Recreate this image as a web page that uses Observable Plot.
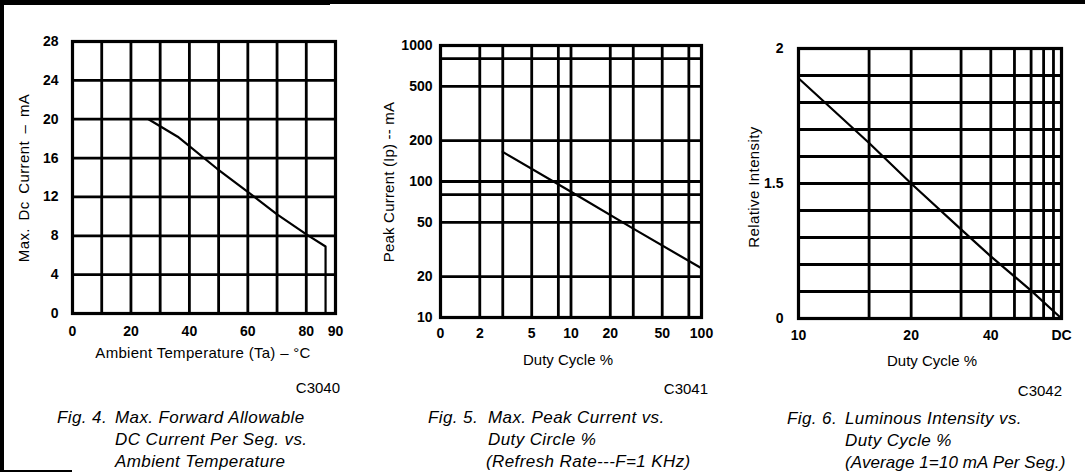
<!DOCTYPE html>
<html><head><meta charset="utf-8">
<script src="https://cdn.jsdelivr.net/npm/d3@7"></script>
<script src="https://cdn.jsdelivr.net/npm/@observablehq/plot@0.6"></script>
<style>
html,body{margin:0;padding:0;background:#fff;}
#page{position:relative;width:1085px;height:473px;overflow:hidden;background:#fff;font-family:"Liberation Sans",Arial,sans-serif;color:#000;}
.t{position:absolute;white-space:nowrap;line-height:1;}
.bar{position:absolute;background:#000;}
.panel{position:absolute;top:0;}
</style></head><body><div id="page"></div>
<script>
// ---------- Fig. 4 data ----------
const tempC      = [26, 36, 49.5, 61, 70, 80.3, 86.6, 86.6];
const maxDcMA    = [20, 18.2, 14.9, 12.3, 10.2, 8.1, 6.9, 0];
const x1Ticks    = [0, 20, 40, 60, 80, 90];
const y1Ticks    = [0, 4, 8, 12, 16, 20, 24, 28];
const x1Grid     = [10, 20, 30, 40, 50, 60, 70, 80];
const y1Grid     = [4, 8, 12, 16, 20, 24];

// ---------- Fig. 5 data ----------
const duty2      = [3, 10, 30, 100];
const peakMA     = [165, 84, 45, 23];
const x2Ticks    = [1, 2, 5, 10, 20, 50, 100];
const x2Labels   = ["0", "2", "5", "10", "20", "50", "100"];
const y2Ticks    = [10, 20, 50, 80, 100, 200, 500, 800, 1000];
const x2Grid     = [2, 3, 5, 8, 10, 20, 30, 50, 80];
const y2Grid     = [20, 50, 80, 100, 200, 500, 800];

// ---------- Fig. 6 data ----------
const duty3      = [10, 15, 20, 30, 40, 64, 100];
const relInt     = [1.89, 1.65, 1.5, 0.99, 0.69, 0.31, 0];
const x3Ticks    = [10, 20, 40, 100];
const x3Labels   = ["10", "20", "40", "DC"];
const y3Ticks    = [0, 1.5, 2];
const y3Labels   = ["0", "1.5", "2"];
const x3Grid     = [15, 20, 30, 40, 52, 64, 76, 88];
const y3Grid     = [0.3, 0.6, 0.9, 1.2, 1.5, 1.6, 1.7, 1.8, 1.9];

const page = document.getElementById("page");
const FONT = '"Liberation Sans", Arial, sans-serif';
const INK = "#000";

function bar(l, t, w, h) {
  const d = document.createElement("div");
  d.className = "bar";
  Object.assign(d.style, {left: l + "px", top: t + "px", width: w + "px", height: h + "px"});
  page.appendChild(d);
}
function text(str, o) {
  const d = document.createElement("div");
  d.className = "t";
  d.textContent = str;
  const size = o.size || 15;
  d.style.fontSize = size + "px";
  if (o.italic) d.style.fontStyle = "italic";
  if (o.ls) d.style.letterSpacing = o.ls + "px";
  if (o.ws) d.style.wordSpacing = o.ws + "px";
  if (o.rotate) {
    d.style.left = o.cx + "px";
    d.style.top = o.cy + "px";
    d.style.transform = "translate(-50%,-50%) rotate(-90deg)";
  } else {
    const top = o.capTop - 0.13 * size;
    d.style.top = top + "px";
    if (o.anchor === "middle") { d.style.left = o.x + "px"; d.style.transform = "translateX(-50%)"; }
    else if (o.anchor === "end") { d.style.right = (1085 - o.x) + "px"; }
    else d.style.left = o.x + "px";
  }
  page.appendChild(d);
}

// page borders from the scanned sheet
bar(0, 0, 1085, 4);
bar(0, 0, 330, 5);
bar(0, 0, 4, 470);
bar(0, 470, 72, 2);

const baseStyle = {fontFamily: FONT, fontSize: "14px", fontWeight: "bold", color: INK, background: "transparent", overflow: "visible"};
const gridStyle = {stroke: INK, strokeWidth: 2.8};

function mount(svg, left) {
  const w = document.createElement("div");
  w.className = "panel";
  w.style.left = left + "px";
  w.appendChild(svg);
  page.appendChild(w);
}

// ---------- Panel 1 ----------
const p1 = Plot.plot({
  width: 360, height: 345,
  marginTop: 41, marginLeft: 72, marginRight: 25, marginBottom: 32,
  style: baseStyle,
  x: {domain: [0, 90], ticks: x1Ticks, tickFormat: d => String(d), tickSize: 0, tickPadding: 13, label: null},
  y: {domain: [0, 28], ticks: y1Ticks, tickFormat: d => String(d), tickSize: 0, tickPadding: 14, label: null},
  marks: [
    Plot.ruleX(x1Grid, gridStyle),
    Plot.ruleY(y1Grid, gridStyle),
    Plot.line(tempC.map((t, i) => ({t, v: maxDcMA[i]})), {x: "t", y: "v", stroke: INK, strokeWidth: 2.2}),
    Plot.frame({stroke: INK, strokeWidth: 3.2})
  ]
});
mount(p1, 0);

// ---------- Panel 2 ----------
const p2 = Plot.plot({
  width: 345, height: 345,
  marginTop: 45, marginLeft: 70, marginRight: 14, marginBottom: 28,
  style: baseStyle,
  x: {type: "log", domain: [1, 100], ticks: x2Ticks, tickFormat: d => x2Labels[x2Ticks.indexOf(d)], tickSize: 0, tickPadding: 11, label: null},
  y: {type: "log", domain: [10, 1000], ticks: y2Ticks, tickFormat: d => String(d), tickSize: 0, tickPadding: 8, label: null},
  marks: [
    Plot.ruleX(x2Grid, gridStyle),
    Plot.ruleY(y2Grid, gridStyle),
    Plot.line(duty2.map((d, i) => ({d, v: peakMA[i]})), {x: "d", y: "v", stroke: INK, strokeWidth: 2.2}),
    Plot.frame({stroke: INK, strokeWidth: 3.2})
  ]
});
mount(p2, 370);

// ---------- Panel 3 ----------
const p3 = Plot.plot({
  width: 360, height: 345,
  marginTop: 48, marginLeft: 73, marginRight: 24, marginBottom: 27,
  style: baseStyle,
  x: {type: "pow", exponent: -0.5, domain: [10, 100], ticks: x3Ticks, tickFormat: d => x3Labels[x3Ticks.indexOf(d)], tickSize: 0, tickPadding: 12, label: null},
  y: {type: "linear", domain: [0, 1.5, 2], ticks: y3Ticks, tickFormat: d => y3Labels[y3Ticks.indexOf(d)], tickSize: 0, tickPadding: 15, label: null},
  marks: [
    Plot.ruleX(x3Grid, gridStyle),
    Plot.ruleY(y3Grid, gridStyle),
    Plot.line(duty3.map((d, i) => ({d, v: relInt[i]})), {x: "d", y: "v", stroke: INK, strokeWidth: 2.2}),
    Plot.frame({stroke: INK, strokeWidth: 3.2})
  ]
});
mount(p3, 725);

// ---------- Axis titles ----------
text("Ambient Temperature (Ta) – °C", {x: 203, capTop: 347, anchor: "middle", size: 15, ls: 0.3});
text("Max. Dc Current – mA", {rotate: true, cx: 23, cy: 178, size: 15, ls: 0.4, ws: 3});
text("Duty Cycle %", {x: 568, capTop: 354, anchor: "middle", size: 15});
text("Peak Current (Ip) -- mA", {rotate: true, cx: 388, cy: 182, size: 15, ls: 0.2});
text("Duty Cycle %", {x: 932, capTop: 355, anchor: "middle", size: 15});
text("Relative Intensity", {rotate: true, cx: 753, cy: 187, size: 15, ls: 0.4});

// ---------- Figure codes ----------
text("C3040", {x: 340, capTop: 382, anchor: "end", size: 15});
text("C3041", {x: 708, capTop: 383, anchor: "end", size: 15});
text("C3042", {x: 1062, capTop: 385, anchor: "end", size: 15});

// ---------- Captions ----------
const cap = 17, lh = 22, cls = 0.4;
text("Fig. 4.", {x: 57, capTop: 411, size: cap, italic: true, ls: cls});
text("Max. Forward Allowable", {x: 115, capTop: 411, size: cap, italic: true, ls: cls});
text("DC Current Per Seg. vs.", {x: 115, capTop: 411 + lh, size: cap, italic: true, ls: cls});
text("Ambient Temperature", {x: 115, capTop: 411 + 2 * lh, size: cap, italic: true, ls: cls});

text("Fig. 5.", {x: 428, capTop: 411, size: cap, italic: true, ls: cls});
text("Max. Peak Current vs.", {x: 488, capTop: 411, size: cap, italic: true, ls: cls});
text("Duty Circle %", {x: 488, capTop: 411 + lh, size: cap, italic: true, ls: cls});
text("(Refresh Rate---F=1 KHz)", {x: 486, capTop: 411 + 2 * lh, size: cap, italic: true, ls: cls});

text("Fig. 6.", {x: 787, capTop: 412, size: cap, italic: true, ls: cls});
text("Luminous Intensity vs.", {x: 845, capTop: 412, size: cap, italic: true, ls: cls});
text("Duty Cycle %", {x: 845, capTop: 412 + lh, size: cap, italic: true, ls: cls});
text("(Average 1=10 mA Per Seg.)", {x: 845, capTop: 412 + 2 * lh, size: cap, italic: true, ls: 0.1});
</script>
</body></html>
